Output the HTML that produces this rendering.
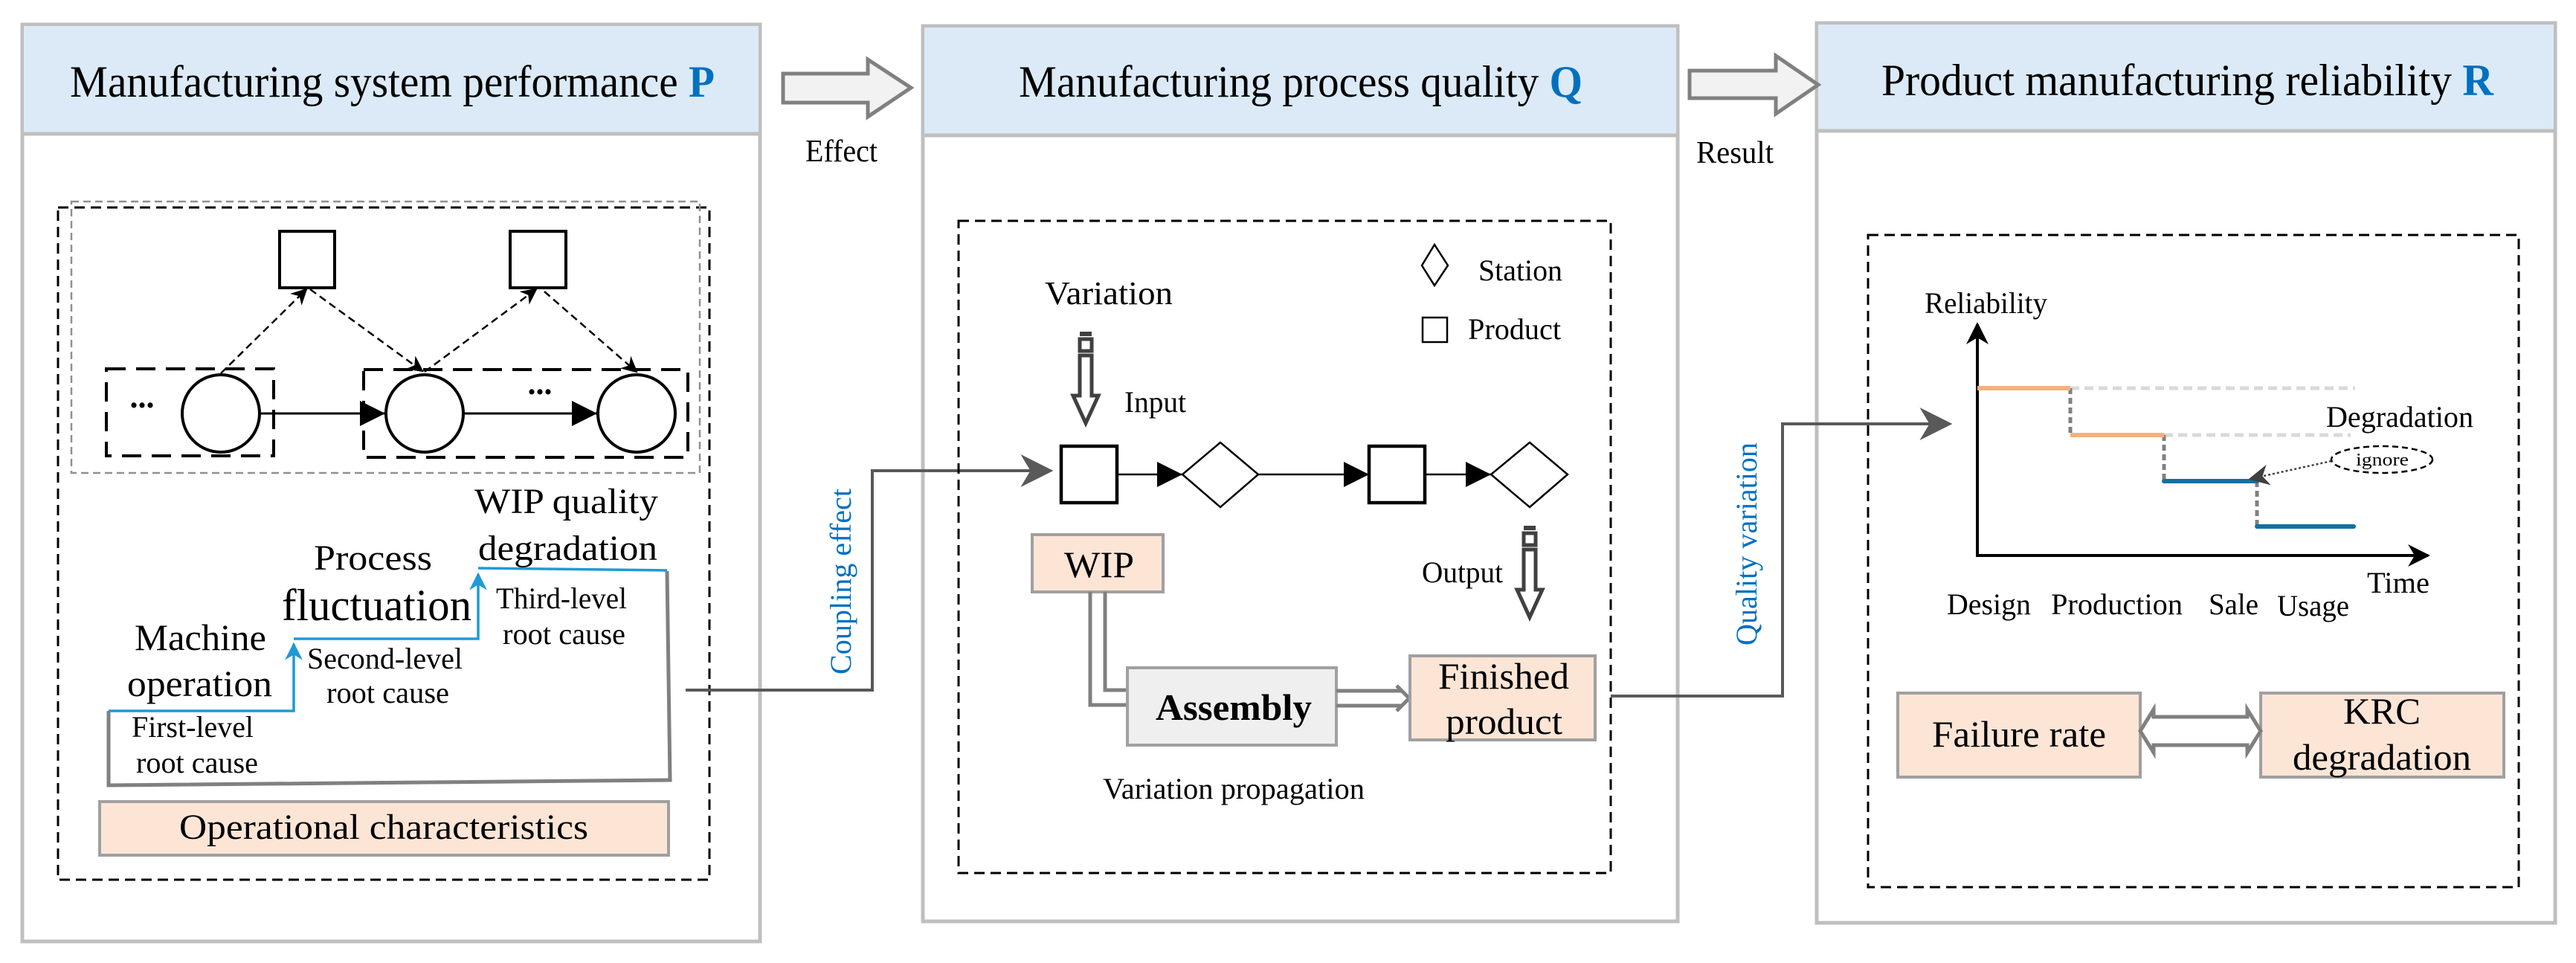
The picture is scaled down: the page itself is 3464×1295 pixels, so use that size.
<!DOCTYPE html>
<html><head><meta charset="utf-8"><style>
html,body{margin:0;padding:0;background:#fff;}
svg{display:block;}
svg text{font-family:"Liberation Serif","DejaVu Serif","Noto Serif CJK SC",serif;fill:#000;}
</style></head><body>
<svg width="3464" height="1295" viewBox="0 0 3464 1295" xmlns="http://www.w3.org/2000/svg">
<defs>
<marker id="ag" viewBox="0 0 10 10" refX="9" refY="5" markerWidth="44" markerHeight="44" markerUnits="userSpaceOnUse" orient="auto"><path d="M0,0 L10,5 L0,10 L3,5 z" fill="#595959"/></marker>
<marker id="af" viewBox="0 0 10 10" refX="10" refY="5" markerWidth="36" markerHeight="34" markerUnits="userSpaceOnUse" orient="auto"><path d="M0,0 L10,5 L0,10 z" fill="#000"/></marker>
<marker id="au" viewBox="0 0 10 10" refX="9" refY="5" markerWidth="30" markerHeight="30" markerUnits="userSpaceOnUse" orient="auto"><path d="M0,0 L10,5 L0,10 L3,5 z" fill="#000"/></marker>
<marker id="abl" viewBox="0 0 10 10" refX="9" refY="5" markerWidth="24" markerHeight="24" markerUnits="userSpaceOnUse" orient="auto"><path d="M0,0 L10,5 L0,10 L3,5 z" fill="#1f9ad6"/></marker>
<marker id="ad" viewBox="0 0 10 10" refX="9" refY="5" markerWidth="22" markerHeight="22" markerUnits="userSpaceOnUse" orient="auto"><path d="M0,0 L10,5 L0,10 L3,5 z" fill="#000"/></marker>
<marker id="ai" viewBox="0 0 10 10" refX="9" refY="5" markerWidth="28" markerHeight="28" markerUnits="userSpaceOnUse" orient="auto"><path d="M0,0 L10,5 L0,10 L3,5 z" fill="#404040"/></marker>
</defs>

<rect x="30" y="33" width="992" height="1233" fill="#fff" stroke="#bfbfbf" stroke-width="5"/>
<rect x="32" y="35" width="988" height="145" fill="#dbeaf6"/>
<line x1="30" y1="180" x2="1022" y2="180" stroke="#bfbfbf" stroke-width="5"/>
<text x="94" y="130" font-size="60" textLength="867" lengthAdjust="spacingAndGlyphs">Manufacturing system performance <tspan fill="#0070c0" font-weight="bold">P</tspan></text>

<rect x="1241" y="35" width="1015" height="1204" fill="#fff" stroke="#bfbfbf" stroke-width="5"/>
<rect x="1243" y="37" width="1011" height="145" fill="#dbeaf6"/>
<line x1="1241" y1="182" x2="2256" y2="182" stroke="#bfbfbf" stroke-width="5"/>
<text x="1370" y="130" font-size="60" textLength="758" lengthAdjust="spacingAndGlyphs">Manufacturing process quality <tspan fill="#0070c0" font-weight="bold">Q</tspan></text>

<rect x="2443" y="31" width="993" height="1210" fill="#fff" stroke="#bfbfbf" stroke-width="5"/>
<rect x="2445" y="33" width="989" height="143" fill="#dbeaf6"/>
<line x1="2443" y1="176" x2="3436" y2="176" stroke="#bfbfbf" stroke-width="5"/>
<text x="2530" y="128" font-size="60" textLength="823" lengthAdjust="spacingAndGlyphs">Product manufacturing reliability <tspan fill="#0070c0" font-weight="bold">R</tspan></text>

<path d="M1053,99 L1167,99 L1167,80 L1225,118 L1167,157 L1167,138 L1053,138 z" fill="#f2f2f2" stroke="#808080" stroke-width="5"/>
<text x="1083" y="217" font-size="42" textLength="97" lengthAdjust="spacingAndGlyphs">Effect</text>
<path d="M2272,95 L2388,95 L2388,75 L2445,114 L2388,153 L2388,132 L2272,132 z" fill="#f2f2f2" stroke="#808080" stroke-width="5"/>
<text x="2281" y="219" font-size="42" textLength="104" lengthAdjust="spacingAndGlyphs">Result</text>

<rect x="78" y="279" width="876" height="904" fill="none" stroke="#000" stroke-width="3" stroke-dasharray="14,8"/>
<rect x="96" y="271" width="845" height="365" fill="none" stroke="#909090" stroke-width="2.5" stroke-dasharray="10,6"/>
<rect x="376" y="311" width="74" height="76" fill="#fff" stroke="#000" stroke-width="4"/>
<rect x="686" y="311" width="75" height="76" fill="#fff" stroke="#000" stroke-width="4"/>
<rect x="143" y="496" width="225" height="117" fill="none" stroke="#000" stroke-width="4" stroke-dasharray="26,14"/>
<rect x="489" y="497" width="436" height="118" fill="none" stroke="#000" stroke-width="4" stroke-dasharray="26,14"/>
<g stroke="#000" stroke-width="2.5" stroke-dasharray="10,6" fill="none">
<line x1="297" y1="502" x2="412" y2="389" marker-end="url(#ad)"/>
<line x1="417" y1="389" x2="568" y2="499" marker-end="url(#ad)"/>
<line x1="571" y1="500" x2="721" y2="389" marker-end="url(#ad)"/>
<line x1="732" y1="392" x2="856" y2="500" marker-end="url(#ad)"/>
</g>
<line x1="349" y1="556" x2="518" y2="556" stroke="#000" stroke-width="3" marker-end="url(#af)"/>
<line x1="623" y1="556" x2="803" y2="556" stroke="#000" stroke-width="3" marker-end="url(#af)"/>
<circle cx="297" cy="556" r="52" fill="#fff" stroke="#000" stroke-width="4"/>
<circle cx="571" cy="556" r="52" fill="#fff" stroke="#000" stroke-width="4"/>
<circle cx="856" cy="556" r="52" fill="#fff" stroke="#000" stroke-width="4"/>
<text x="191" y="548" font-size="44" font-weight="bold" text-anchor="middle">...</text>
<text x="726" y="530" font-size="44" font-weight="bold" text-anchor="middle">...</text>

<polyline points="146,956 146,1056 901,1049 897,768" fill="none" stroke="#808080" stroke-width="5"/>
<polyline points="146,956 395,956 395,866" fill="none" stroke="#1f9ad6" stroke-width="3.5" marker-end="url(#abl)"/>
<polyline points="395,859 643,859 643,772" fill="none" stroke="#1f9ad6" stroke-width="3.5" marker-end="url(#abl)"/>
<polyline points="643,764 897,767" fill="none" stroke="#1f9ad6" stroke-width="3.5"/>
<text x="181" y="874" font-size="50" textLength="177" lengthAdjust="spacingAndGlyphs">Machine</text>
<text x="171" y="936" font-size="50" textLength="195" lengthAdjust="spacingAndGlyphs">operation</text>
<text x="422" y="766" font-size="48" textLength="159" lengthAdjust="spacingAndGlyphs">Process</text>
<text x="379" y="834" font-size="60" textLength="255" lengthAdjust="spacingAndGlyphs">fluctuation</text>
<text x="638" y="690" font-size="48" textLength="247" lengthAdjust="spacingAndGlyphs">WIP quality</text>
<text x="643" y="753" font-size="48" textLength="241" lengthAdjust="spacingAndGlyphs">degradation</text>
<text x="177" y="991" font-size="40" textLength="164" lengthAdjust="spacingAndGlyphs">First-level</text>
<text x="183" y="1039" font-size="40" textLength="164" lengthAdjust="spacingAndGlyphs">root cause</text>
<text x="413" y="899" font-size="40" textLength="209" lengthAdjust="spacingAndGlyphs">Second-level</text>
<text x="439" y="945" font-size="40" textLength="165" lengthAdjust="spacingAndGlyphs">root cause</text>
<text x="667" y="818" font-size="40" textLength="176" lengthAdjust="spacingAndGlyphs">Third-level</text>
<text x="676" y="866" font-size="40" textLength="165" lengthAdjust="spacingAndGlyphs">root cause</text>
<rect x="134" y="1078" width="765" height="72" fill="#fde5d6" stroke="#a0a0a0" stroke-width="4"/>
<text x="241" y="1128" font-size="48" textLength="550" lengthAdjust="spacingAndGlyphs">Operational characteristics</text>

<polyline points="922,928 1173,928 1173,633 1412,633" fill="none" stroke="#595959" stroke-width="4" marker-end="url(#ag)"/>
<text transform="translate(1144,907) rotate(-90)" font-size="40" textLength="250" lengthAdjust="spacingAndGlyphs" style="fill:#0070c0">Coupling effect</text>

<rect x="1289" y="297" width="877" height="877" fill="none" stroke="#000" stroke-width="3" stroke-dasharray="14,8"/>
<path d="M1912,357 L1929,329 L1947,357 L1929,384 z" fill="#fff" stroke="#000" stroke-width="2.5"/>
<text x="1988" y="377" font-size="40" textLength="113" lengthAdjust="spacingAndGlyphs">Station</text>
<rect x="1913" y="427" width="33" height="33" fill="#fff" stroke="#000" stroke-width="2.5"/>
<text x="1974" y="456" font-size="40" textLength="125" lengthAdjust="spacingAndGlyphs">Product</text>
<text x="1405" y="409" font-size="44" textLength="172" lengthAdjust="spacingAndGlyphs">Variation</text>
<g fill="none" stroke="#404040" stroke-width="5">
<rect x="1452" y="446" width="16" height="6" fill="#404040" stroke="none"/>
<rect x="1452" y="456" width="16" height="16"/>
<path d="M1452,478 L1452,532 L1443,532 L1460,569 L1477,532 L1468,532 L1468,478 z"/>
</g>
<text x="1512" y="554" font-size="40" textLength="83" lengthAdjust="spacingAndGlyphs">Input</text>
<rect x="1427" y="600" width="75" height="76" fill="#fff" stroke="#000" stroke-width="4.5"/>
<line x1="1502" y1="638" x2="1590" y2="638" stroke="#000" stroke-width="2.5" marker-end="url(#af)"/>
<path d="M1590,638 L1641,595 L1692,638 L1641,682 z" fill="#fff" stroke="#000" stroke-width="2.5"/>
<line x1="1692" y1="638" x2="1841" y2="638" stroke="#000" stroke-width="2.5" marker-end="url(#af)"/>
<rect x="1841" y="600" width="75" height="76" fill="#fff" stroke="#000" stroke-width="4.5"/>
<line x1="1916" y1="638" x2="2005" y2="638" stroke="#000" stroke-width="2.5" marker-end="url(#af)"/>
<path d="M2005,638 L2057,595 L2108,638 L2057,682 z" fill="#fff" stroke="#000" stroke-width="2.5"/>
<g fill="none" stroke="#404040" stroke-width="5">
<rect x="2049" y="707" width="16" height="6" fill="#404040" stroke="none"/>
<rect x="2049" y="717" width="16" height="16"/>
<path d="M2049,739 L2049,793 L2040,793 L2057,830 L2074,793 L2065,793 L2065,739 z"/>
</g>
<text x="1912" y="783" font-size="40" textLength="109" lengthAdjust="spacingAndGlyphs">Output</text>
<rect x="1388" y="719" width="176" height="77" fill="#fde5d6" stroke="#a0a0a0" stroke-width="4"/>
<text x="1431" y="776" font-size="50" textLength="94" lengthAdjust="spacingAndGlyphs">WIP</text>
<path d="M1466,796 L1466,948 L1516,948 M1486,796 L1486,928 L1516,928" fill="none" stroke="#808080" stroke-width="5"/>
<rect x="1516" y="898" width="281" height="104" fill="#efefef" stroke="#a0a0a0" stroke-width="4"/>
<text x="1554" y="968" font-size="50" font-weight="bold" textLength="210" lengthAdjust="spacingAndGlyphs">Assembly</text>
<path d="M1797,929 L1885,929 M1797,949 L1885,949 M1878,922 L1895,939 L1878,956" fill="none" stroke="#808080" stroke-width="5"/>
<rect x="1896" y="882" width="249" height="113" fill="#fde5d6" stroke="#a0a0a0" stroke-width="4"/>
<text x="1934" y="926" font-size="50" textLength="176" lengthAdjust="spacingAndGlyphs">Finished</text>
<text x="1944" y="987" font-size="50" textLength="157" lengthAdjust="spacingAndGlyphs">product</text>
<text x="1483" y="1074" font-size="40" textLength="352" lengthAdjust="spacingAndGlyphs">Variation propagation</text>

<polyline points="2166,936 2397,936 2397,570 2621,570" fill="none" stroke="#595959" stroke-width="4" marker-end="url(#ag)"/>
<text transform="translate(2362,868) rotate(-90)" font-size="40" textLength="273" lengthAdjust="spacingAndGlyphs" style="fill:#0070c0">Quality variation</text>

<rect x="2512" y="316" width="875" height="877" fill="none" stroke="#000" stroke-width="3" stroke-dasharray="14,8"/>
<text x="2588" y="421" font-size="40" textLength="165" lengthAdjust="spacingAndGlyphs">Reliability</text>
<line x1="2659" y1="747" x2="2659" y2="436" stroke="#000" stroke-width="4" marker-end="url(#au)"/>
<line x1="2657" y1="747" x2="3265" y2="747" stroke="#000" stroke-width="4" marker-end="url(#au)"/>
<g stroke-width="5" fill="none" stroke-dasharray="12,7">
<line x1="2784" y1="522" x2="3167" y2="522" stroke="#d9d9d9"/>
<line x1="2910" y1="585" x2="3161" y2="585" stroke="#d9d9d9"/>
<line x1="2784" y1="522" x2="2784" y2="585" stroke="#808080" stroke-dasharray="8,5"/>
<line x1="2910" y1="585" x2="2910" y2="647" stroke="#808080" stroke-dasharray="8,5"/>
<line x1="3035" y1="647" x2="3035" y2="708" stroke="#808080" stroke-dasharray="8,5"/>
</g>
<line x1="2659" y1="522" x2="2784" y2="522" stroke="#f8b07a" stroke-width="6"/>
<line x1="2784" y1="585" x2="2910" y2="585" stroke="#f8b07a" stroke-width="6"/>
<line x1="2910" y1="647" x2="3035" y2="647" stroke="#1470a0" stroke-width="6" stroke-linecap="round"/>
<line x1="3035" y1="708" x2="3165" y2="708" stroke="#1470a0" stroke-width="6" stroke-linecap="round"/>
<text x="3128" y="574" font-size="40" textLength="198" lengthAdjust="spacingAndGlyphs">Degradation</text>
<ellipse cx="3203" cy="618" rx="68" ry="18" fill="#fff" stroke="#000" stroke-width="2.5" stroke-dasharray="8,5"/>
<text x="3168" y="626" font-size="24" textLength="71" lengthAdjust="spacingAndGlyphs">ignore</text>
<line x1="3135" y1="620" x2="3026" y2="644" stroke="#404040" stroke-width="2.5" stroke-dasharray="3,3" marker-end="url(#ai)"/>
<text x="2618" y="826" font-size="40" textLength="113" lengthAdjust="spacingAndGlyphs">Design</text>
<text x="2758" y="826" font-size="40" textLength="177" lengthAdjust="spacingAndGlyphs">Production</text>
<text x="2970" y="826" font-size="40" textLength="67" lengthAdjust="spacingAndGlyphs">Sale</text>
<text x="3062" y="828" font-size="40" textLength="97" lengthAdjust="spacingAndGlyphs">Usage</text>
<text x="3183" y="797" font-size="40" textLength="84" lengthAdjust="spacingAndGlyphs">Time</text>
<rect x="2552" y="932" width="326" height="113" fill="#fde5d6" stroke="#a0a0a0" stroke-width="4"/>
<text x="2598" y="1004" font-size="50" textLength="234" lengthAdjust="spacingAndGlyphs">Failure rate</text>
<rect x="3040" y="932" width="327" height="113" fill="#fde5d6" stroke="#a0a0a0" stroke-width="4"/>
<text x="3151" y="973" font-size="50" textLength="104" lengthAdjust="spacingAndGlyphs">KRC</text>
<text x="3083" y="1035" font-size="50" textLength="240" lengthAdjust="spacingAndGlyphs">degradation</text>
<path d="M2896,964 L3022,964 L3022,954 L3040,983 L3022,1012 L3022,1002 L2896,1002 L2896,1012 L2878,983 L2896,954 z" fill="#fff" stroke="#808080" stroke-width="5"/>
</svg>
</body></html>
